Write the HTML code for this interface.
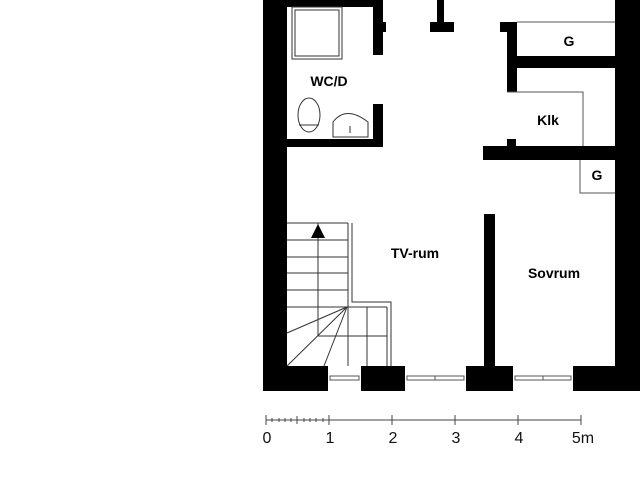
<!DOCTYPE html>
<html><head><style>body{margin:0;background:#fff}svg{display:block}</style></head><body>
<svg width="640" height="480" viewBox="0 0 640 480" xmlns="http://www.w3.org/2000/svg">
<rect width="640" height="480" fill="#fff"/>
<g fill="#000">
<rect x="263" y="0" width="24" height="391"/>
<rect x="615" y="0" width="25" height="391"/>
<rect x="263" y="366" width="377" height="25"/>
<rect x="263" y="0" width="120" height="7"/>
<rect x="373" y="0" width="10" height="55"/>
<rect x="383" y="22" width="3" height="10"/>
<rect x="373" y="104" width="10" height="43"/>
<rect x="287" y="139" width="96" height="8"/>
<rect x="437" y="0" width="7" height="25"/>
<rect x="430" y="22" width="24" height="10"/>
<rect x="507" y="22" width="10" height="70"/>
<rect x="500" y="22" width="17" height="10"/>
<rect x="517" y="56" width="98" height="12"/>
<rect x="483" y="146" width="132" height="14"/>
<rect x="507" y="139" width="9" height="8"/>
<rect x="484" y="214" width="11" height="152"/>
</g>
<g fill="#fff" stroke="#000" stroke-width="1">
<rect x="328" y="366" width="33" height="25" stroke="none"/>
<rect x="405" y="366" width="61" height="25" stroke="none"/>
<rect x="513" y="366" width="60" height="25" stroke="none"/>
</g>
<g stroke="#555" stroke-width="1" fill="none">
<rect x="330" y="376" width="29" height="4"/>
<rect x="407" y="376" width="57" height="4"/><line x1="435" y1="376" x2="435" y2="380"/>
<rect x="515" y="376" width="56" height="4"/><line x1="543" y1="376" x2="543" y2="380"/>
<line x1="517" y1="22" x2="615" y2="22"/>
<polyline points="507,92 583,92 583,146"/>
<polyline points="580,160 580,193 615,193"/>
</g>
<g stroke="#333" stroke-width="1" fill="none">
<rect x="292" y="7" width="50" height="52"/>
<rect x="295" y="10" width="44" height="46"/>
<ellipse cx="309" cy="115" rx="11" ry="17"/>
<line x1="299" y1="125" x2="319" y2="125"/>
<path d="M333 137 L333 122 Q346 105 368 122 L368 137 Z"/>
<line x1="350" y1="126" x2="350" y2="133"/>
<line x1="287" y1="223" x2="348" y2="223"/>
<line x1="287" y1="240" x2="348" y2="240"/>
<line x1="287" y1="257" x2="348" y2="257"/>
<line x1="287" y1="273" x2="348" y2="273"/>
<line x1="287" y1="290" x2="348" y2="290"/>
<line x1="287" y1="307" x2="387" y2="307"/>
<line x1="318" y1="223" x2="318" y2="336"/>
<line x1="348" y1="223" x2="348" y2="366"/>
<polyline points="352,223 352,302 391,302 391,366"/>
<line x1="387" y1="307" x2="387" y2="366"/>
<line x1="318" y1="336" x2="387" y2="336"/>
<line x1="367" y1="307" x2="367" y2="366"/>
<line x1="347" y1="307" x2="287" y2="333"/>
<line x1="347" y1="307" x2="287" y2="366"/>
<line x1="347" y1="307" x2="324" y2="366"/>
</g>
<polygon points="318,224 311,238 325,238" fill="#000"/>
<g font-family="Liberation Sans, sans-serif" font-weight="bold" font-size="14" text-anchor="middle" fill="#000">
<text x="329" y="86">WC/D</text>
<text x="569" y="46">G</text>
<text x="548" y="125">Klk</text>
<text x="597" y="180">G</text>
<text x="415" y="258">TV-rum</text>
<text x="554" y="278">Sovrum</text>
</g>
<g stroke="#444" stroke-width="1">
<line x1="266" y1="420" x2="581" y2="420"/>
<line x1="266" y1="415" x2="266" y2="425"/><line x1="329" y1="415" x2="329" y2="425"/>
<line x1="392" y1="415" x2="392" y2="425"/><line x1="455" y1="415" x2="455" y2="425"/>
<line x1="518" y1="415" x2="518" y2="425"/><line x1="581" y1="415" x2="581" y2="425"/>
<line x1="272" y1="418" x2="272" y2="422"/><line x1="279" y1="418" x2="279" y2="422"/>
<line x1="285" y1="418" x2="285" y2="422"/><line x1="291" y1="418" x2="291" y2="422"/>
<line x1="297" y1="416" x2="297" y2="424"/><line x1="304" y1="418" x2="304" y2="422"/>
<line x1="310" y1="418" x2="310" y2="422"/><line x1="316" y1="418" x2="316" y2="422"/>
<line x1="323" y1="418" x2="323" y2="422"/>
</g>
<g font-family="Liberation Sans, sans-serif" font-size="16" text-anchor="middle" fill="#111">
<text x="267" y="443">0</text><text x="330" y="443">1</text><text x="393" y="443">2</text>
<text x="456" y="443">3</text><text x="519" y="443">4</text><text x="583" y="443">5m</text>
</g>
</svg>
</body></html>
